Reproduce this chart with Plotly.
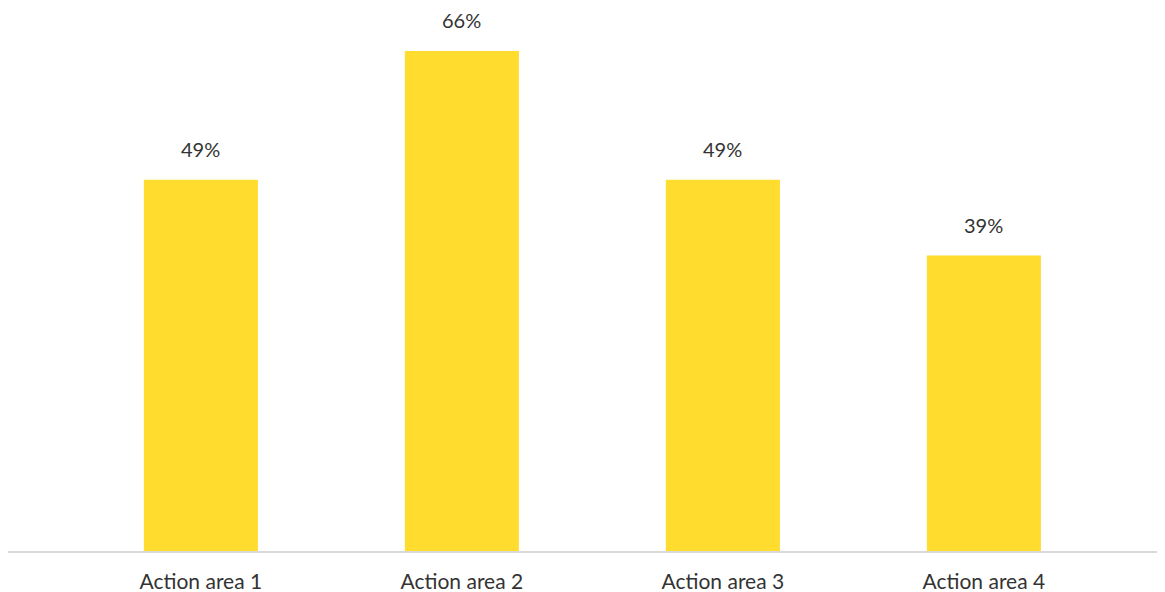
import plotly.graph_objects as go

categories = ["Action area 1", "Action area 2", "Action area 3", "Action area 4"]
values = [49, 66, 49, 39]
labels = ["49%", "66%", "49%", "39%"]

fig = go.Figure()
fig.add_trace(go.Bar(
    x=categories, y=values,
    marker=dict(color="#FFDC2E", line=dict(width=0)),
    hoverinfo="skip",
))
for c, v, t in zip(categories, values, labels):
    fig.add_annotation(x=c, y=v, text=t, showarrow=False, yshift=31,
                       font=dict(size=20, color="#333333", family="Lato"))

fig.update_layout(
    width=1157, height=584,
    margin=dict(l=0, r=0, t=2, b=41),
    paper_bgcolor="white", plot_bgcolor="white",
    bargap=0.563,
    showlegend=False,
    font=dict(family="Lato", size=21, color="#333333"),
    xaxis=dict(range=[-0.739, 3.694], showgrid=False, showline=True,
               linecolor="#D9D9D9", linewidth=1.5, ticks="", tickfont=dict(size=21, color="#333333"),
               ticklabelstandoff=11),
    yaxis=dict(range=[0, 71.4], showgrid=False, showticklabels=False,
               zeroline=False, showline=False, ticks=""),
)
fig.write_html("out.html")
